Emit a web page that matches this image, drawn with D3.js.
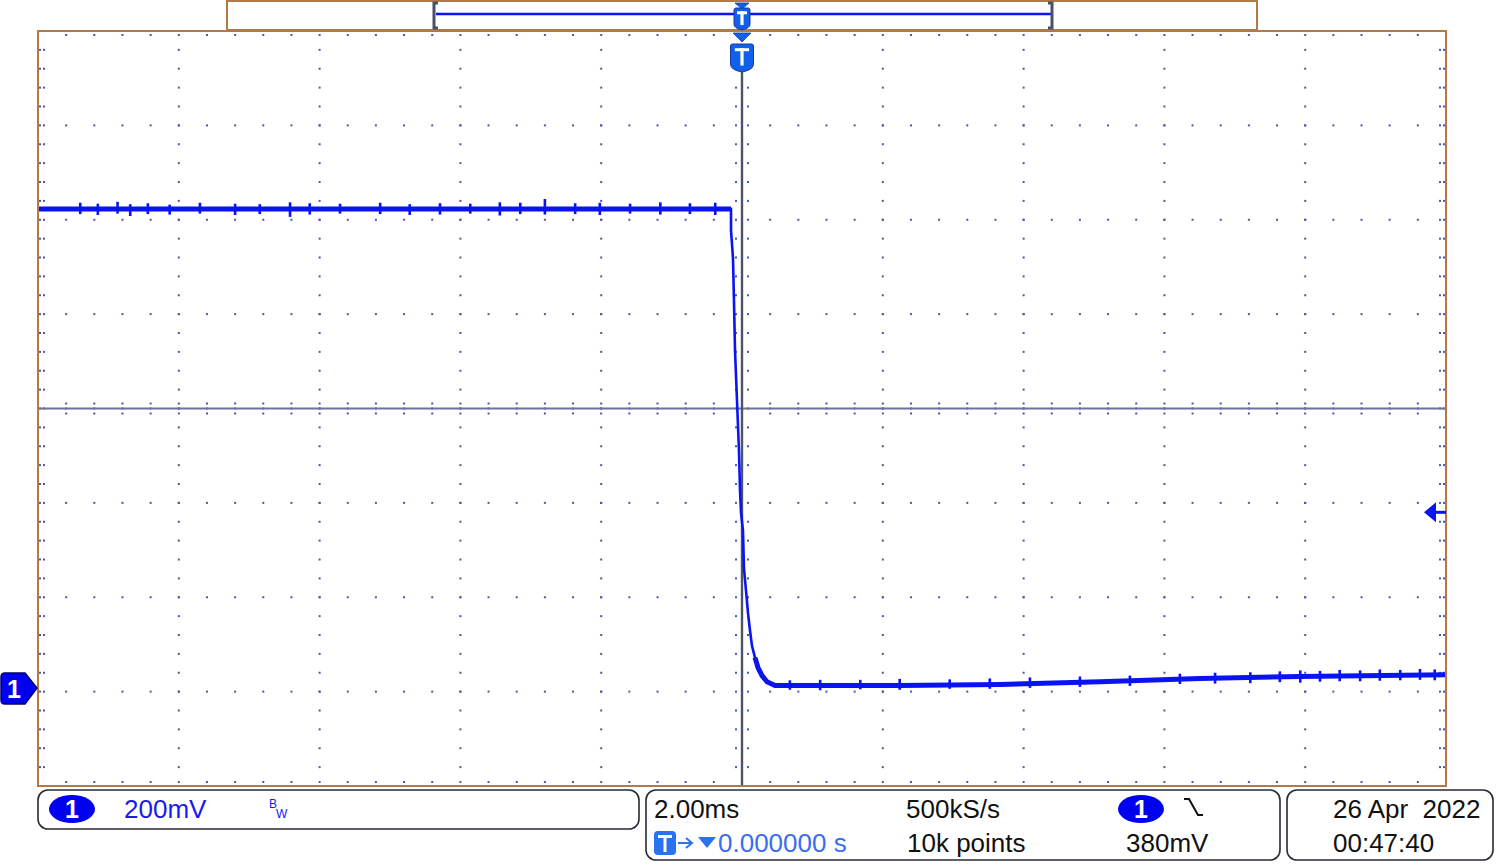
<!DOCTYPE html>
<html><head><meta charset="utf-8">
<script src="https://cdn.jsdelivr.net/npm/d3@7"></script>
<style>
html,body{margin:0;padding:0;background:#fff;}
svg{display:block;font-family:"Liberation Sans",Arial,sans-serif;}
</style></head><body>
<svg id="c" width="1500" height="867"></svg>
<script>
// ---------------- data ----------------
const timeMs = [-10.0,-0.156,-0.156,-0.128,-0.114,-0.099,-0.071,-0.043,-0.028,-0.014,0.014,0.028,0.057,0.085,0.114,0.142,0.185,0.227,0.284,0.355,0.469,2.244,3.665,5.085,6.506,7.926,10.0];
const volts  = [1.023,1.023,0.977,0.919,0.828,0.722,0.617,0.511,0.426,0.379,0.341,0.261,0.214,0.167,0.129,0.097,0.072,0.051,0.034,0.021,0.013,0.013,0.015,0.021,0.028,0.032,0.036];
const spikeTimes = [-9.40,-9.15,-8.87,-8.69,-8.44,-8.13,-7.70,-7.20,-6.85,-6.42,-6.14,-5.71,-5.14,-4.72,-4.29,-3.86,-3.44,-3.15,-2.80,-2.37,-2.02,-1.59,-1.16,-0.74,-0.38,
                    0.68,1.11,1.68,2.24,2.95,3.52,4.09,4.80,5.51,6.22,6.72,7.22,7.64,7.93,8.21,8.49,8.78,9.06,9.35,9.63,9.84];
const spikeHigh = [1.036,1.034,1.038,1.033,1.035,1.032,1.036,1.034,1.033,1.037,1.035,1.034,1.036,1.033,1.035,1.034,1.037,1.036,1.044,1.035,1.036,1.034,1.037,1.035,1.036,
                   0.024,0.025,0.025,0.027,0.026,0.028,0.030,0.032,0.034,0.038,0.040,0.041,0.043,0.045,0.044,0.046,0.045,0.047,0.046,0.048,0.047];
const spikeLow  = [1.012,1.010,1.013,1.008,1.012,1.011,1.013,1.010,1.012,1.006,1.011,1.013,1.012,1.010,1.011,1.013,1.009,1.012,1.011,1.012,1.010,1.013,1.011,1.012,1.010,
                   0.004,0.003,0.005,0.004,0.006,0.006,0.008,0.010,0.012,0.016,0.017,0.018,0.020,0.019,0.021,0.022,0.022,0.023,0.024,0.025,0.024];
const xMajorTicks = [-10,-8,-6,-4,-2,0,2,4,6,8,10];      // ms, 2.00 ms/div
const yMajorTicks = [-0.2,0,0.2,0.4,0.6,0.8,1.0,1.2,1.4]; // V, 200 mV/div
const triggerLevel = 0.38;
const chScale = "200mV";
const timebase = "2.00ms";
const sampleRate = "500kS/s";
const recordLen = "10k points";
const trigPos = "0.000000 s";
const trigLevelTxt = "380mV";
const dateTxt = "26 Apr  2022";
const timeTxt = "00:47:40";

// ---------------- layout ----------------
const L = 38, R = 1446, T = 31, B = 786;
const x = d3.scaleLinear().domain([-10, 10]).range([L, R]);
const y = d3.scaleLinear().domain([-0.2, 1.4]).range([B, T]);
const svg = d3.select("#c");
const BROWN = "#b27a48", DOT = "#4a56b0", BLUE = "#0a14f2", DARK = "#2a2a35";

svg.append("rect").attr("x", L).attr("y", T).attr("width", R - L).attr("height", B - T).attr("fill", "#fff");

// grid dots
const g = svg.append("g");
const xMinor = d3.range(-10, 10.0001, 0.4);
const yMinor = d3.range(-0.2, 1.4001, 0.04);
function dot(px, py, c) { g.append("rect").attr("x", px - 1).attr("y", py - 1).attr("width", 2).attr("height", 2).attr("fill", c || DOT); }
yMajorTicks.forEach(v => xMinor.forEach(t => dot(x(t), y(v))));
xMajorTicks.forEach(t => yMinor.forEach(v => dot(x(t), y(v))));
xMinor.forEach(t => { dot(x(t), T + 4); dot(x(t), B - 4); });
yMinor.forEach(v => { dot(L + 2, y(v)); dot(L + 6, y(v)); dot(R - 2, y(v)); dot(R - 6, y(v)); });

// center axes
const cy = y(0.6), cx = x(0);
svg.append("line").attr("x1", L).attr("x2", R).attr("y1", cy).attr("y2", cy).attr("stroke", "#6c7298").attr("stroke-width", 2);
xMinor.forEach(t => { dot(x(t), cy - 5); dot(x(t), cy + 5); });
yMinor.forEach(v => { dot(cx - 6, y(v)); dot(cx + 6, y(v)); });
svg.append("line").attr("x1", cx).attr("x2", cx).attr("y1", 72).attr("y2", B).attr("stroke", "#4e5468").attr("stroke-width", 2.4);

// trace
const pts = timeMs.map((t, i) => [t, volts[i]]);
const line = d3.line().x(d => x(d[0])).y(d => y(d[1]));
svg.append("path").datum(pts).attr("d", line)
  .attr("fill", "none").attr("stroke", BLUE).attr("stroke-width", 2.6).attr("stroke-linejoin", "round");
// noisy plateaus drawn as a wider band
[pts.slice(0, 2), pts.slice(16)].forEach(seg => {
  svg.append("path").datum(seg).attr("d", line)
    .attr("fill", "none").attr("stroke", BLUE).attr("stroke-width", 5).attr("stroke-linejoin", "round");
});
svg.append("g").selectAll("line").data(spikeTimes).join("line")
  .attr("x1", d => x(d)).attr("x2", d => x(d))
  .attr("y1", (d, i) => y(spikeHigh[i])).attr("y2", (d, i) => y(spikeLow[i]))
  .attr("stroke", BLUE).attr("stroke-width", 2.6);

// border
svg.append("rect").attr("x", L).attr("y", T).attr("width", R - L).attr("height", B - T)
  .attr("fill", "none").attr("stroke", BROWN).attr("stroke-width", 2);

// top record bar
svg.append("rect").attr("x", 227).attr("y", 1).attr("width", 1030).attr("height", 29)
  .attr("fill", "#fff").attr("stroke", BROWN).attr("stroke-width", 2);
svg.append("line").attr("x1", 436).attr("x2", 1051).attr("y1", 14).attr("y2", 14).attr("stroke", BLUE).attr("stroke-width", 2.4);
[[434, 1], [1052, -1]].forEach(([bx, s]) => {
  svg.append("path").attr("d", `M${bx + 4 * s},3 H${bx} V28 H${bx + 4 * s}`).attr("fill", "none").attr("stroke", "#4a5068").attr("stroke-width", 3);
});

function tMarker(cx0, triTop, triH, triW, shTop, shH, shW) {
  svg.append("path").attr("d", `M${cx0 - triW / 2},${triTop} H${cx0 + triW / 2} L${cx0},${triTop + triH} Z`)
    .attr("fill", "#1060f0").attr("stroke", "#1a3a9a").attr("stroke-width", 0.8);
  const l = cx0 - shW / 2, r = cx0 + shW / 2, b = shTop + shH;
  svg.append("path").attr("d", `M${l},${shTop + 2} Q${l},${shTop} ${l + 2},${shTop} H${r - 2} Q${r},${shTop} ${r},${shTop + 2} V${b - shW * 0.35} Q${r},${b - 2} ${cx0},${b} Q${l},${b - 2} ${l},${b - shW * 0.35} Z`)
    .attr("fill", "#1060f0").attr("stroke", "#1a3a9a").attr("stroke-width", 1);
  const tw = shW * 0.62, th = shH * 0.62, ty = shTop + shH * 0.15;
  svg.append("rect").attr("x", cx0 - tw / 2).attr("y", ty).attr("width", tw).attr("height", 3).attr("fill", "#fff");
  svg.append("rect").attr("x", cx0 - 1.6).attr("y", ty).attr("width", 3.2).attr("height", th).attr("fill", "#fff");
}
tMarker(cx, 3, 6, 14, 8, 22, 16);
tMarker(cx, 33, 9, 18, 44, 28, 23);

// ground marker "1"
svg.append("path").attr("d", "M5,673 H25 L37,688 L25,704 H5 Q1,704 1,700 V677 Q1,673 5,673 Z")
  .attr("fill", "#0000f0").attr("stroke", "#000070").attr("stroke-width", 1.5);
svg.append("text").attr("x", 14).attr("y", 698).attr("text-anchor", "middle").attr("fill", "#fff")
  .attr("font-size", 25).attr("font-weight", "bold").text("1");

// trigger level arrow
const ty0 = y(triggerLevel);
svg.append("path").attr("d", `M1424,${ty0} L1436,${ty0 - 10} L1436,${ty0 + 10} Z`).attr("fill", BLUE);
svg.append("line").attr("x1", 1434).attr("x2", R).attr("y1", ty0).attr("y2", ty0).attr("stroke", BLUE).attr("stroke-width", 3);

// ---------------- bottom readouts ----------------
function box(x0, y0, w, h) {
  svg.append("rect").attr("x", x0).attr("y", y0).attr("width", w).attr("height", h).attr("rx", 10)
    .attr("fill", "#fff").attr("stroke", DARK).attr("stroke-width", 1.6);
}
function badge(cx0, cy0) {
  svg.append("ellipse").attr("cx", cx0).attr("cy", cy0).attr("rx", 23).attr("ry", 14).attr("fill", "#0000f0");
  svg.append("text").attr("x", cx0).attr("y", cy0 + 9).attr("text-anchor", "middle").attr("fill", "#fff")
    .attr("font-size", 25).attr("font-weight", "bold").text("1");
}
function txt(x0, y0, s, c, fs) {
  return svg.append("text").attr("x", x0).attr("y", y0).attr("fill", c).attr("font-size", fs || 26).text(s);
}
box(38, 790, 601, 39);
box(646, 790, 634, 70);
box(1287, 790, 206, 70);

badge(72, 809);
txt(124, 818, chScale, "#1a1aee");
txt(269, 808, "B", "#1a1aee", 12);
txt(276, 818, "W", "#1a1aee", 12);

txt(654, 818, timebase, "#111");
txt(906, 818, sampleRate, "#111");
badge(1141, 809);
svg.append("path").attr("d", "M1184,799 H1189 L1198,815 H1203").attr("fill", "none").attr("stroke", "#111").attr("stroke-width", 2);
svg.append("rect").attr("x", 654).attr("y", 831).attr("width", 22).attr("height", 24).attr("rx", 4).attr("fill", "#2a72f0");
svg.append("rect").attr("x", 658).attr("y", 835).attr("width", 14).attr("height", 3).attr("fill", "#fff");
svg.append("rect").attr("x", 663.5).attr("y", 835).attr("width", 3).attr("height", 17).attr("fill", "#fff");
svg.append("path").attr("d", "M678,843 H691 M686,838 L692,843 L686,848").attr("fill", "none").attr("stroke", "#2a72f0").attr("stroke-width", 2);
svg.append("path").attr("d", "M698,837 H716 L707,848 Z").attr("fill", "#2a72f0");
txt(718, 852, trigPos, "#3a6cf0");
txt(907, 852, recordLen, "#111");
txt(1126, 852, trigLevelTxt, "#111");

txt(1333, 818, dateTxt, "#111").style("white-space", "pre");
txt(1333, 852, timeTxt, "#111");
</script>
</body></html>
